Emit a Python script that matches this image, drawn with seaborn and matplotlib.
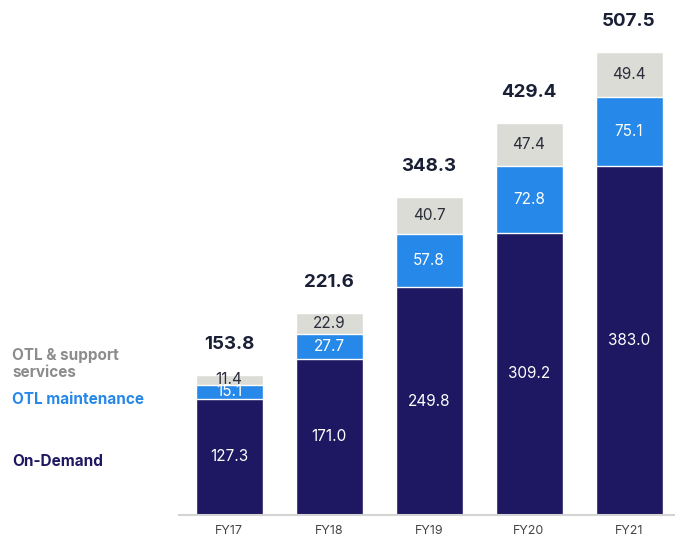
import matplotlib
matplotlib.use("Agg")
import matplotlib.pyplot as plt
import seaborn as sns
import pandas as pd
import numpy as np

years = ["FY17", "FY18", "FY19", "FY20", "FY21"]
on_demand = [127.3, 171.0, 249.8, 309.2, 383.0]
otl_maint = [15.1, 27.7, 57.8, 72.8, 75.1]
otl_support = [11.4, 22.9, 40.7, 47.4, 49.4]
totals = [153.8, 221.6, 348.3, 429.4, 507.5]

sns.set_theme(style="white")
plt.rcParams['font.family'] = ['Inter', 'DejaVu Sans']

c_navy = "#1E1761"
c_blue = "#2688E8"
c_grey = "#DCDCD6"

fig = plt.figure(figsize=(6.75, 5.38), dpi=100)
ax = fig.add_axes([179/675, 23/538, 1 - 179/675, 511/538])

df = pd.DataFrame({"year": years, "od": on_demand, "om": otl_maint, "os": otl_support})
df["od_om"] = df["od"] + df["om"]
df["all"] = df["od_om"] + df["os"]

w = 0.67
sns.barplot(data=df, x="year", y="all", color=c_grey, width=w, ax=ax, saturation=1)
sns.barplot(data=df, x="year", y="od_om", color=c_blue, width=w, ax=ax, saturation=1)
sns.barplot(data=df, x="year", y="od", color=c_navy, width=w, ax=ax, saturation=1)

for i in range(len(years)):
    od, om, os_ = on_demand[i], otl_maint[i], otl_support[i]
    ax.text(i, od / 2, f"{od:.1f}", ha="center", va="center", color="white", fontsize=11)
    ax.text(i, od + om / 2, f"{om:.1f}", ha="center", va="center", color="white", fontsize=11)
    ax.text(i, od + om + os_ / 2, f"{os_:.1f}", ha="center", va="center", color="#2a2d3a", fontsize=11)
    ax.annotate(f"{totals[i]:.1f}", xy=(i, od + om + os_), xytext=(0, 22), textcoords="offset points",
                ha="center", va="center", color="#1a1f36", fontsize=13.5, fontweight="bold")

ax.set_xlim(-0.5, 4.46)
ax.set_ylim(0, 560)
ax.set_xlabel("")
ax.set_ylabel("")
ax.set_yticks([])
ax.tick_params(axis="x", length=0, pad=7, labelsize=9, labelcolor="#444444")
for s in ["top", "right", "left"]:
    ax.spines[s].set_visible(False)
ax.spines["bottom"].set_color("#D4D4D4")
ax.spines["bottom"].set_linewidth(1.5)

fig.text(12/675, 1 - 364/538, "OTL & support\nservices", ha="left", va="center",
         color="#8C8C8C", fontsize=11, fontweight="bold", linespacing=1.15)
fig.text(12/675, 1 - 400/538, "OTL maintenance", ha="left", va="center",
         color=c_blue, fontsize=11, fontweight="bold")
fig.text(12/675, 1 - 462/538, "On-Demand", ha="left", va="center",
         color=c_navy, fontsize=11, fontweight="bold")

fig.savefig("out.png", dpi=100)
